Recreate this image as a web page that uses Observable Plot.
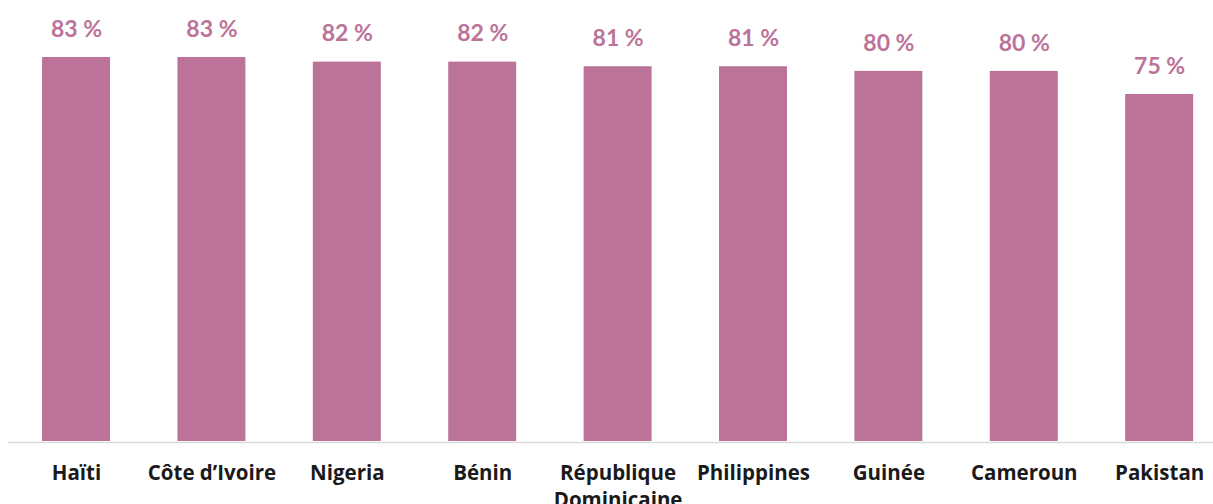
<!DOCTYPE html>
<html>
<head>
<meta charset="utf-8">
<script src="https://cdn.jsdelivr.net/npm/d3@7"></script>
<script src="https://cdn.jsdelivr.net/npm/@observablehq/plot@0.6"></script>
<style>
  html, body { margin: 0; padding: 0; background: #fff; }
  #chart svg { display: block; }
</style>
</head>
<body>
<div id="chart"></div>
<script>
const countries = ["Haïti", "Côte d’Ivoire", "Nigeria", "Bénin", "République\nDominicaine", "Philippines", "Guinée", "Cameroun", "Pakistan"];
const values = [83, 83, 82, 82, 81, 81, 80, 80, 75];
const valueLabels = ["83 %", "83 %", "82 %", "82 %", "81 %", "81 %", "80 %", "80 %", "75 %"];

const data = countries.map((c, i) => ({country: c, value: values[i], label: valueLabels[i]}));

const barColor = "#bc7399";
const valueFont = "Lato, 'Open Sans', sans-serif";
const axisFont = "'Open Sans', Lato, sans-serif";

const chart = Plot.plot({
  width: 1213,
  height: 504,
  marginLeft: 8,
  marginRight: 0,
  marginTop: 24.6,
  marginBottom: 63,
  style: {fontFamily: axisFont, background: "#fff", overflow: "visible"},
  x: {domain: countries, range: [8.2, 1227], paddingInner: 0.498, paddingOuter: 0.25, round: false, label: null},
  y: {domain: [0, 90], axis: null},
  marks: [
    Plot.ruleY([0], {stroke: "#d9d9d9", strokeWidth: 1.5, dy: 1}),
    Plot.barY(data, {x: "country", y: "value", fill: barColor}),
    Plot.text(data, {x: "country", y: "value", text: "label", dy: -28, fill: barColor, fontSize: 23, fontWeight: 700, fontFamily: valueFont}),
    Plot.axisX({tickSize: 0, tickPadding: 19.5, fontSize: 20.5, fontWeight: 700, fill: "#1a1a1a", fontFamily: axisFont, lineHeight: 1.3, label: null})
  ]
});
document.getElementById("chart").appendChild(chart);
</script>
</body>
</html>
